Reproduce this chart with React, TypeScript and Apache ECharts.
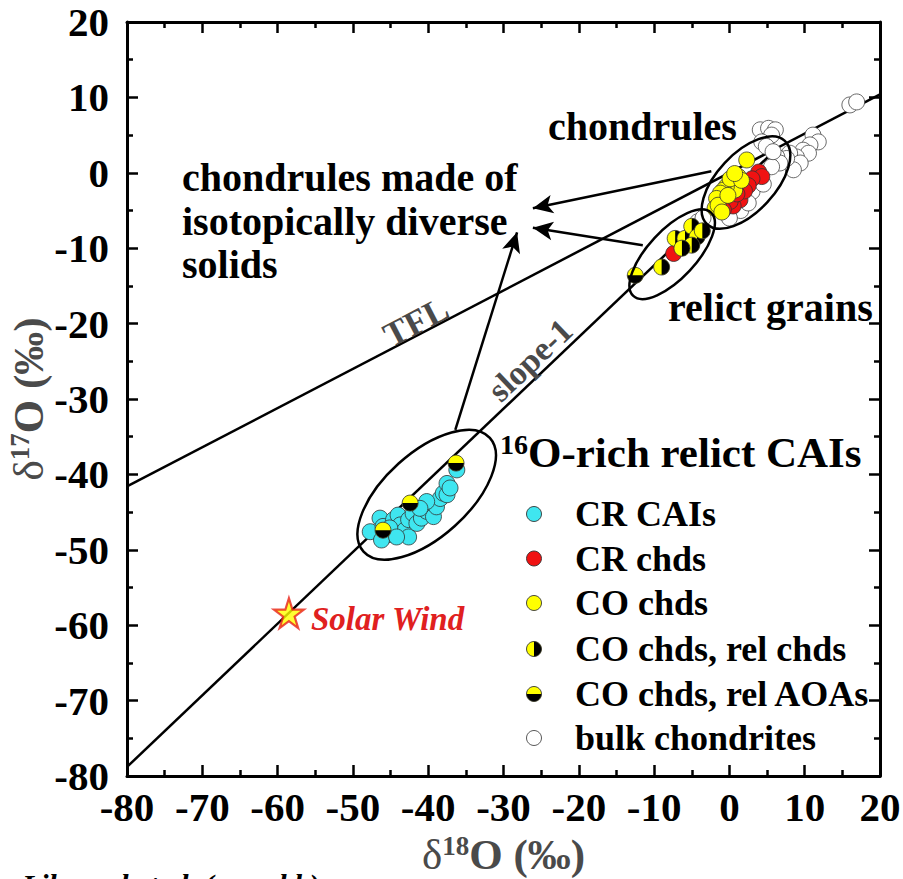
import React, { useEffect, useRef } from "react";
import * as echarts from "echarts";

// ---------- data (δ18O, δ17O in ‰) ----------
const axisMin = -80;
const axisMax = 20;
const axisInterval = 10;

const crCAIs: number[][] = [
  [-47.7, -47.6], [-46.4, -45.8], [-46.0, -46.9], [-45.3, -48.0], [-44.6, -46.0],
  [-44.0, -45.4], [-43.7, -46.7], [-43.1, -47.4], [-42.6, -48.3], [-42.6, -46.0],
  [-42.0, -45.2], [-41.5, -46.5], [-40.9, -45.8], [-40.2, -44.9], [-39.5, -44.1],
  [-39.3, -45.6], [-38.9, -44.3], [-38.4, -43.2], [-38.0, -42.5], [-37.5, -41.2],
  [-37.5, -42.7], [-37.1, -41.8], [-36.2, -39.4], [-46.2, -48.7], [-45.1, -47.1],
  [-44.2, -48.3], [-40.2, -43.6], [-41.1, -44.5],
];

const crChds: number[][] = [
  [3.9, 0.1], [4.3, -0.5], [3.0, -0.8], [2.5, -1.7], [1.4, -3.6], [0.5, -4.4],
  [0.1, -3.8], [-0.8, -4.9], [2.0, -2.4], [1.0, -2.8], [-7.4, -10.7],
];

const coChds: number[][] = [
  [2.3, 1.7], [1.2, -0.5], [0.5, -1.2], [0.7, -2.3], [-0.4, -1.8], [-0.8, -2.3],
  [-1.2, -2.7], [-1.7, -3.4], [-1.9, -4.7], [-1.5, -4.3], [0.1, -0.8], [1.6, -1.0],
  [0.7, -0.1], [-0.2, -3.0], [-1.0, -5.2],
];

const coRelChds: number[][] = [
  [-9.0, -12.5], [-7.2, -8.7], [-5.9, -8.7], [-5.0, -7.1], [-4.3, -8.5],
  [-3.6, -7.7], [-5.0, -9.6], [-6.3, -10.0],
];

const coRelAOAs: number[][] = [
  [-46.0, -47.4], [-42.4, -43.8], [-36.3, -38.5], [-12.5, -13.6],
];

const bulkChondrites: number[][] = [
  [16.0, 9.0], [16.9, 9.4], [4.1, 5.7], [5.2, 5.9], [6.1, 5.7], [5.6, 5.0], [4.3, 4.1],
  [4.9, 3.5], [11.1, 5.0], [11.8, 4.1], [10.7, 3.7], [9.8, 3.0], [10.5, 2.6], [8.9, 2.1],
  [8.0, 2.6], [9.4, 1.3], [8.5, 0.4], [7.6, 1.9], [6.3, 2.1], [6.7, 1.3], [5.6, 0.8],
  [5.8, 2.8], [-4.2, -6.5], [-3.5, -6.0], [3.0, -2.5], [1.5, -5.0], [2.5, -4.0],
  [4.5, -1.5], [0.0, -6.0],
];

const solarWind: number[][] = [[-58.5, -58.4]];

const tflLine: number[][] = [[-80, -41.6], [20, 10.4]];
const slope1Line: number[][] = [[-80, -78.8], [6.5, 3.4]];

const legendNames = [
  "CR CAIs",
  "CR chds",
  "CO chds",
  "CO chds, rel chds",
  "CO chds, rel AOAs",
  "bulk chondrites",
];

// ---------- annotation geometry (data-space anchors) ----------
const ellipseNotes = [
  { center: [2.2, -1.3], rx: 57, ry: 29, angle: 47 },
  { center: [-7.6, -10.8], rx: 57, ry: 24, angle: 47 },
  { center: [-40.2, -42.7], rx: 85, ry: 42, angle: 42 },
];
const arrowNotes = [
  { from: [-2.4, 0.2], to: [-26.1, -4.7] },
  { from: [-11.5, -9.6], to: [-26.1, -7.3] },
  { from: [-36.4, -34.1], to: [-28.2, -7.9] },
];

// ---------- styles ----------
const FONT = "'Liberation Serif','Times New Roman',Times,serif";
const CYAN = "#3FE6F0";
const RED = "#F01212";
const YELLOW = "#FFFF00";
const EDGE = "#333333";
const GRAY = "#4a4a4a";
const R = 8;

const halfSeries = (name: string, data: number[][], half: "right" | "bottom") => ({
  type: "custom",
  name,
  coordinateSystem: "cartesian2d",
  encode: { x: 0, y: 1 },
  data,
  z: 5,
  renderItem: (_params: any, api: any) => {
    const p = api.coord([api.value(0), api.value(1)]);
    const [s, e] = half === "right" ? [-Math.PI / 2, Math.PI / 2] : [0, Math.PI];
    return {
      type: "group",
      children: [
        { type: "circle", shape: { cx: p[0], cy: p[1], r: R }, style: { fill: YELLOW } },
        {
          type: "sector",
          shape: { cx: p[0], cy: p[1], r0: 0, r: R, startAngle: s, endAngle: e, clockwise: true },
          style: { fill: "#000" },
        },
        {
          type: "circle",
          shape: { cx: p[0], cy: p[1], r: R },
          style: { fill: "none", stroke: EDGE, lineWidth: 0.8 },
        },
      ],
    };
  },
});

const scatter = (name: string, data: number[][], color: string, border: string) => ({
  type: "scatter",
  name,
  data,
  symbol: "circle",
  symbolSize: 2 * R,
  itemStyle: { color, borderColor: border, borderWidth: 0.8, opacity: 1 },
  z: 4,
});

const axisCommon = {
  type: "value",
  min: axisMin,
  max: axisMax,
  interval: axisInterval,
  axisLine: { show: true, onZero: false, lineStyle: { color: "#000", width: 3 } },
  axisTick: { show: true, inside: true, length: 11, lineStyle: { color: "#000", width: 2.5 } },
  minorTick: { show: true, splitNumber: 2, length: 6, lineStyle: { color: "#000", width: 2.5 } },
  splitLine: { show: false },
  minorSplitLine: { show: false },
};

const labelStyle = {
  fontSize: 41,
  fontWeight: "bold",
  fontFamily: FONT,
  color: "#000",
  showMinLabel: true,
  showMaxLabel: true,
  hideOverlap: false,
};

const nameRich = {
  d: { fontSize: 43, fontFamily: FONT, color: GRAY, fontWeight: "normal", lineHeight: 44 },
  s: { fontSize: 27, fontFamily: FONT, color: GRAY, fontWeight: "bold", lineHeight: 27, verticalAlign: "top" },
  o: { fontSize: 43, fontFamily: FONT, color: GRAY, fontWeight: "bold", lineHeight: 44 },
};

const STAR =
  "path://M50,0 L61.2,34.5 L97.6,34.5 L68.2,55.9 L79.4,90.5 L50,69.1 L20.6,90.5 L31.8,55.9 L2.4,34.5 L38.8,34.5 Z";

export default function App() {
  const ref = useRef<HTMLDivElement>(null);

  useEffect(() => {
    const chart = echarts.init(ref.current!, null, { renderer: "svg" });
    chart.setOption({
      animation: false,
      backgroundColor: "#fff",
      grid: {
        left: 127,
        right: 23,
        top: 22,
        bottom: 103,
        containLabel: false,
        outerBoundsMode: "none",
      },
      xAxis: [
        {
          ...axisCommon,
          position: "bottom",
          axisLabel: { ...labelStyle, margin: 10 },
          name: "{d|δ}{s|18}{o|O (‰)}",
          nameLocation: "middle",
          nameGap: 56,
          nameTextStyle: { rich: nameRich },
        },
        { ...axisCommon, position: "top", axisLabel: { show: false } },
      ],
      yAxis: [
        {
          ...axisCommon,
          position: "left",
          axisLabel: { ...labelStyle, margin: 18 },
          name: "{d|δ}{s|17}{o|O (‰)}",
          nameLocation: "middle",
          nameGap: 77,
          nameMoveOverlap: false,
          nameTextStyle: { rich: nameRich },
        },
        { ...axisCommon, position: "right", axisLabel: { show: false } },
      ],
      series: [
        {
          type: "line",
          name: "TFL",
          data: tflLine,
          symbol: "none",
          lineStyle: { color: "#000", width: 2.5 },
          z: 2,
          silent: true,
        },
        {
          type: "line",
          name: "slope-1",
          data: slope1Line,
          symbol: "none",
          lineStyle: { color: "#000", width: 2.5 },
          z: 2,
          silent: true,
          markLine: {
            silent: true,
            symbol: ["none", "arrow"],
            symbolSize: [14, 20],
            label: { show: false },
            lineStyle: { color: "#000", width: 2.5, type: "solid" },
            data: arrowNotes.map((a) => [{ coord: a.from }, { coord: a.to }]),
          },
        },
        scatter("bulk chondrites", bulkChondrites, "#fff", "#444"),
        scatter("CR CAIs", crCAIs, CYAN, EDGE),
        scatter("CR chds", crChds, RED, EDGE),
        scatter("CO chds", coChds, YELLOW, EDGE),
        halfSeries("CO chds, rel chds", coRelChds, "right"),
        halfSeries("CO chds, rel AOAs", coRelAOAs, "bottom"),
        {
          type: "scatter",
          name: "Solar Wind",
          data: solarWind,
          symbol: STAR,
          symbolSize: 30,
          itemStyle: { color: YELLOW, borderColor: "#E8201A", borderWidth: 2.2 },
          z: 6,
        },
      ],
    });

    const px = (p: number[]) => chart.convertToPixel({ xAxisIndex: 0, yAxisIndex: 0 }, p) as number[];

    const graphics: any[] = [];
    ellipseNotes.forEach((el) => {
      const c = px(el.center);
      graphics.push({
        type: "ellipse",
        x: c[0],
        y: c[1],
        rotation: (el.angle * Math.PI) / 180,
        shape: { cx: 0, cy: 0, rx: el.rx, ry: el.ry },
        style: { fill: "none", stroke: "#000", lineWidth: 2.5 },
        z: 50,
        silent: true,
      });
    });

    const bold = (size: number, color = "#000") => ({
      fontSize: size,
      fontWeight: "bold",
      fontFamily: FONT,
      fill: color,
    });
    const addText = (text: string, x: number, y: number, size: number, extra: any = {}) =>
      graphics.push({
        type: "text",
        x,
        y,
        z: 60,
        silent: true,
        style: { text, ...bold(size), verticalAlign: "middle", align: "left", ...extra },
      });

    addText("chondrules", 548, 126, 40);
    addText("chondrules made of", 182, 177, 40);
    addText("isotopically diverse", 182, 221, 40);
    addText("solids", 182, 264, 40);
    addText("relict grains", 668, 307, 40);
    graphics.push({
      type: "text",
      x: 500,
      y: 452,
      z: 60,
      silent: true,
      style: {
        text: "{s|16}{b|O-rich relict CAIs}",
        verticalAlign: "middle",
        align: "left",
        rich: {
          s: { fontSize: 28, fontWeight: "bold", fontFamily: FONT, fill: "#000", lineHeight: 28, verticalAlign: "top" },
          b: { fontSize: 43, fontWeight: "bold", fontFamily: FONT, fill: "#000", lineHeight: 43 },
        },
      },
    });
    addText("Solar Wind", 311, 619, 33, { fill: "#E02020", fontStyle: "italic" });
    addText("Libourel et al. (unpubl.)", 22, 884, 30, { fontStyle: "italic" });

    // rotated line labels
    graphics.push({
      type: "text",
      x: 416,
      y: 322,
      rotation: Math.atan(0.52),
      z: 60,
      silent: true,
      style: { text: "TFL", ...bold(35, GRAY), align: "center", verticalAlign: "middle" },
    });
    graphics.push({
      type: "text",
      x: 530,
      y: 360,
      rotation: Math.atan(0.95),
      z: 60,
      silent: true,
      style: { text: "slope-1", ...bold(34, GRAY), align: "center", verticalAlign: "middle" },
    });

    // legend
    const legY = [514, 558.5, 603, 649, 694, 738];
    const lx = 534;
    const lr = 7.5;
    legendNames.forEach((name, i) => {
      const y = legY[i];
      if (i === 0 || i === 1 || i === 2 || i === 5) {
        const fill = [CYAN, RED, YELLOW, "", "", "#fff"][i];
        graphics.push({
          type: "circle",
          shape: { cx: lx, cy: y, r: lr },
          style: { fill, stroke: i === 5 ? "#444" : EDGE, lineWidth: 0.9 },
          z: 60,
          silent: true,
        });
      } else {
        const [s, e] = i === 3 ? [-Math.PI / 2, Math.PI / 2] : [0, Math.PI];
        graphics.push({ type: "circle", shape: { cx: lx, cy: y, r: lr }, style: { fill: YELLOW }, z: 60, silent: true });
        graphics.push({
          type: "sector",
          shape: { cx: lx, cy: y, r0: 0, r: lr, startAngle: s, endAngle: e, clockwise: true },
          style: { fill: "#000" },
          z: 60,
          silent: true,
        });
        graphics.push({
          type: "circle",
          shape: { cx: lx, cy: y, r: lr },
          style: { fill: "none", stroke: EDGE, lineWidth: 0.9 },
          z: 61,
          silent: true,
        });
      }
      addText(name, 575, y, 36);
    });

    chart.setOption({ graphic: graphics });

    return () => chart.dispose();
  }, []);

  return (
    <div
      ref={ref}
      style={{ position: "absolute", left: 0, top: 0, width: 903, height: 879, background: "#fff" }}
    />
  );
}
